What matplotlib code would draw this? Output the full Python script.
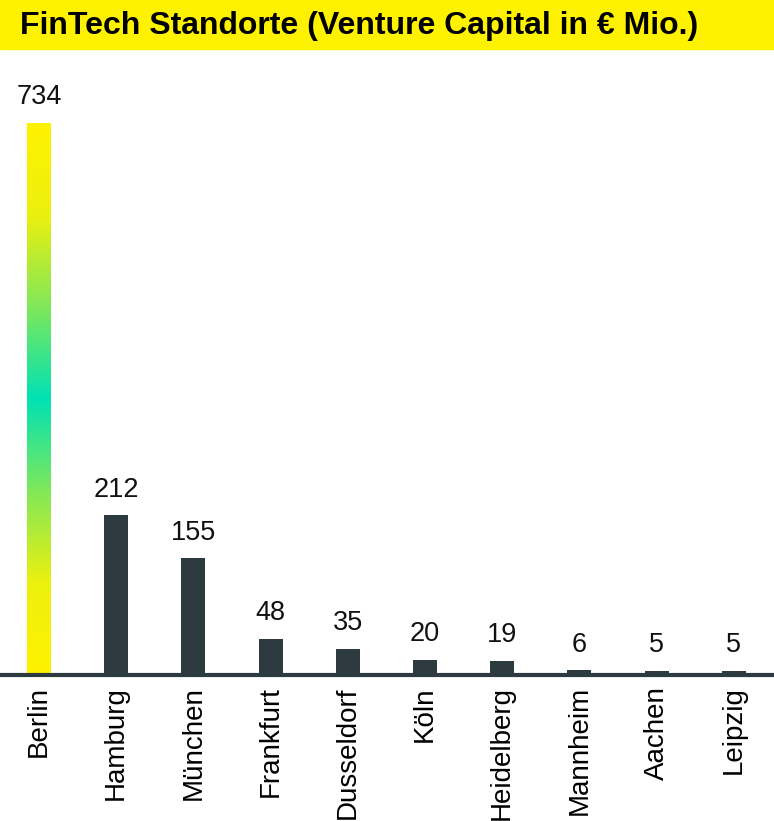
import numpy as np
import matplotlib
matplotlib.use("Agg")
import matplotlib.pyplot as plt
from matplotlib.colors import LinearSegmentedColormap

plt.rcParams['font.family'] = ['Liberation Sans', 'DejaVu Sans']

cities = ["Berlin", "Hamburg", "München", "Frankfurt", "Dusseldorf",
          "Köln", "Heidelberg", "Mannheim", "Aachen", "Leipzig"]
capital = [734, 212, 155, 48, 35, 20, 19, 6, 5, 5]

title = "FinTech Standorte (Venture Capital in € Mio.)"
bar_color = "#2d3a3f"
title_bg = "#fff200"

fig = plt.figure(figsize=(7.74, 8.21), dpi=100)

# title strip across the top
fig.patches.append(plt.Rectangle((0, 1 - 49 / 821), 1, 49 / 821,
                                 transform=fig.transFigure,
                                 color=title_bg, zorder=0))
fig.text(20 / 774, 1 - 26 / 821, title, fontsize=23, fontweight="bold",
         va="center", ha="left", color="black")

ax = fig.add_axes([0, 146 / 821, 1, 614 / 821])
x = np.arange(len(cities))
bars = ax.bar(x, capital, width=0.31, color=bar_color, zorder=2)

# Berlin gets a yellow-teal-yellow gradient
grad_cmap = LinearSegmentedColormap.from_list(
    "berlin", ["#fff200", "#ecf00e", "#80e85a", "#00e2b4",
               "#80e85a", "#ecf00e", "#fff200"])
top = bars[0]
bx, bw, bh = top.get_x(), top.get_width(), top.get_height()
top.set_facecolor("none")
grad = np.linspace(0, 1, 256).reshape(-1, 1)
im = ax.imshow(grad, cmap=grad_cmap, aspect="auto",
               extent=(bx, bx + bw, 0, bh), origin="upper", zorder=2)
im.set_clip_path(top)

for xi, v in zip(x, capital):
    ax.text(xi, v + 17, str(v), ha="center", va="bottom", fontsize=19.5,
            color="#111111")

ax.set_xlim(-0.505, 9.52)
ax.set_ylim(0, 816)
ax.set_xticks(x)
ax.set_xticklabels(cities, rotation=90, fontsize=20, va="top")
ax.tick_params(axis="x", length=0, pad=8)
ax.set_yticks([])
for side in ["top", "left", "right"]:
    ax.spines[side].set_visible(False)
ax.spines["bottom"].set_color(bar_color)
ax.spines["bottom"].set_linewidth(3)
ax.spines["bottom"].set_zorder(3)

fig.savefig("out.png", dpi=100)
